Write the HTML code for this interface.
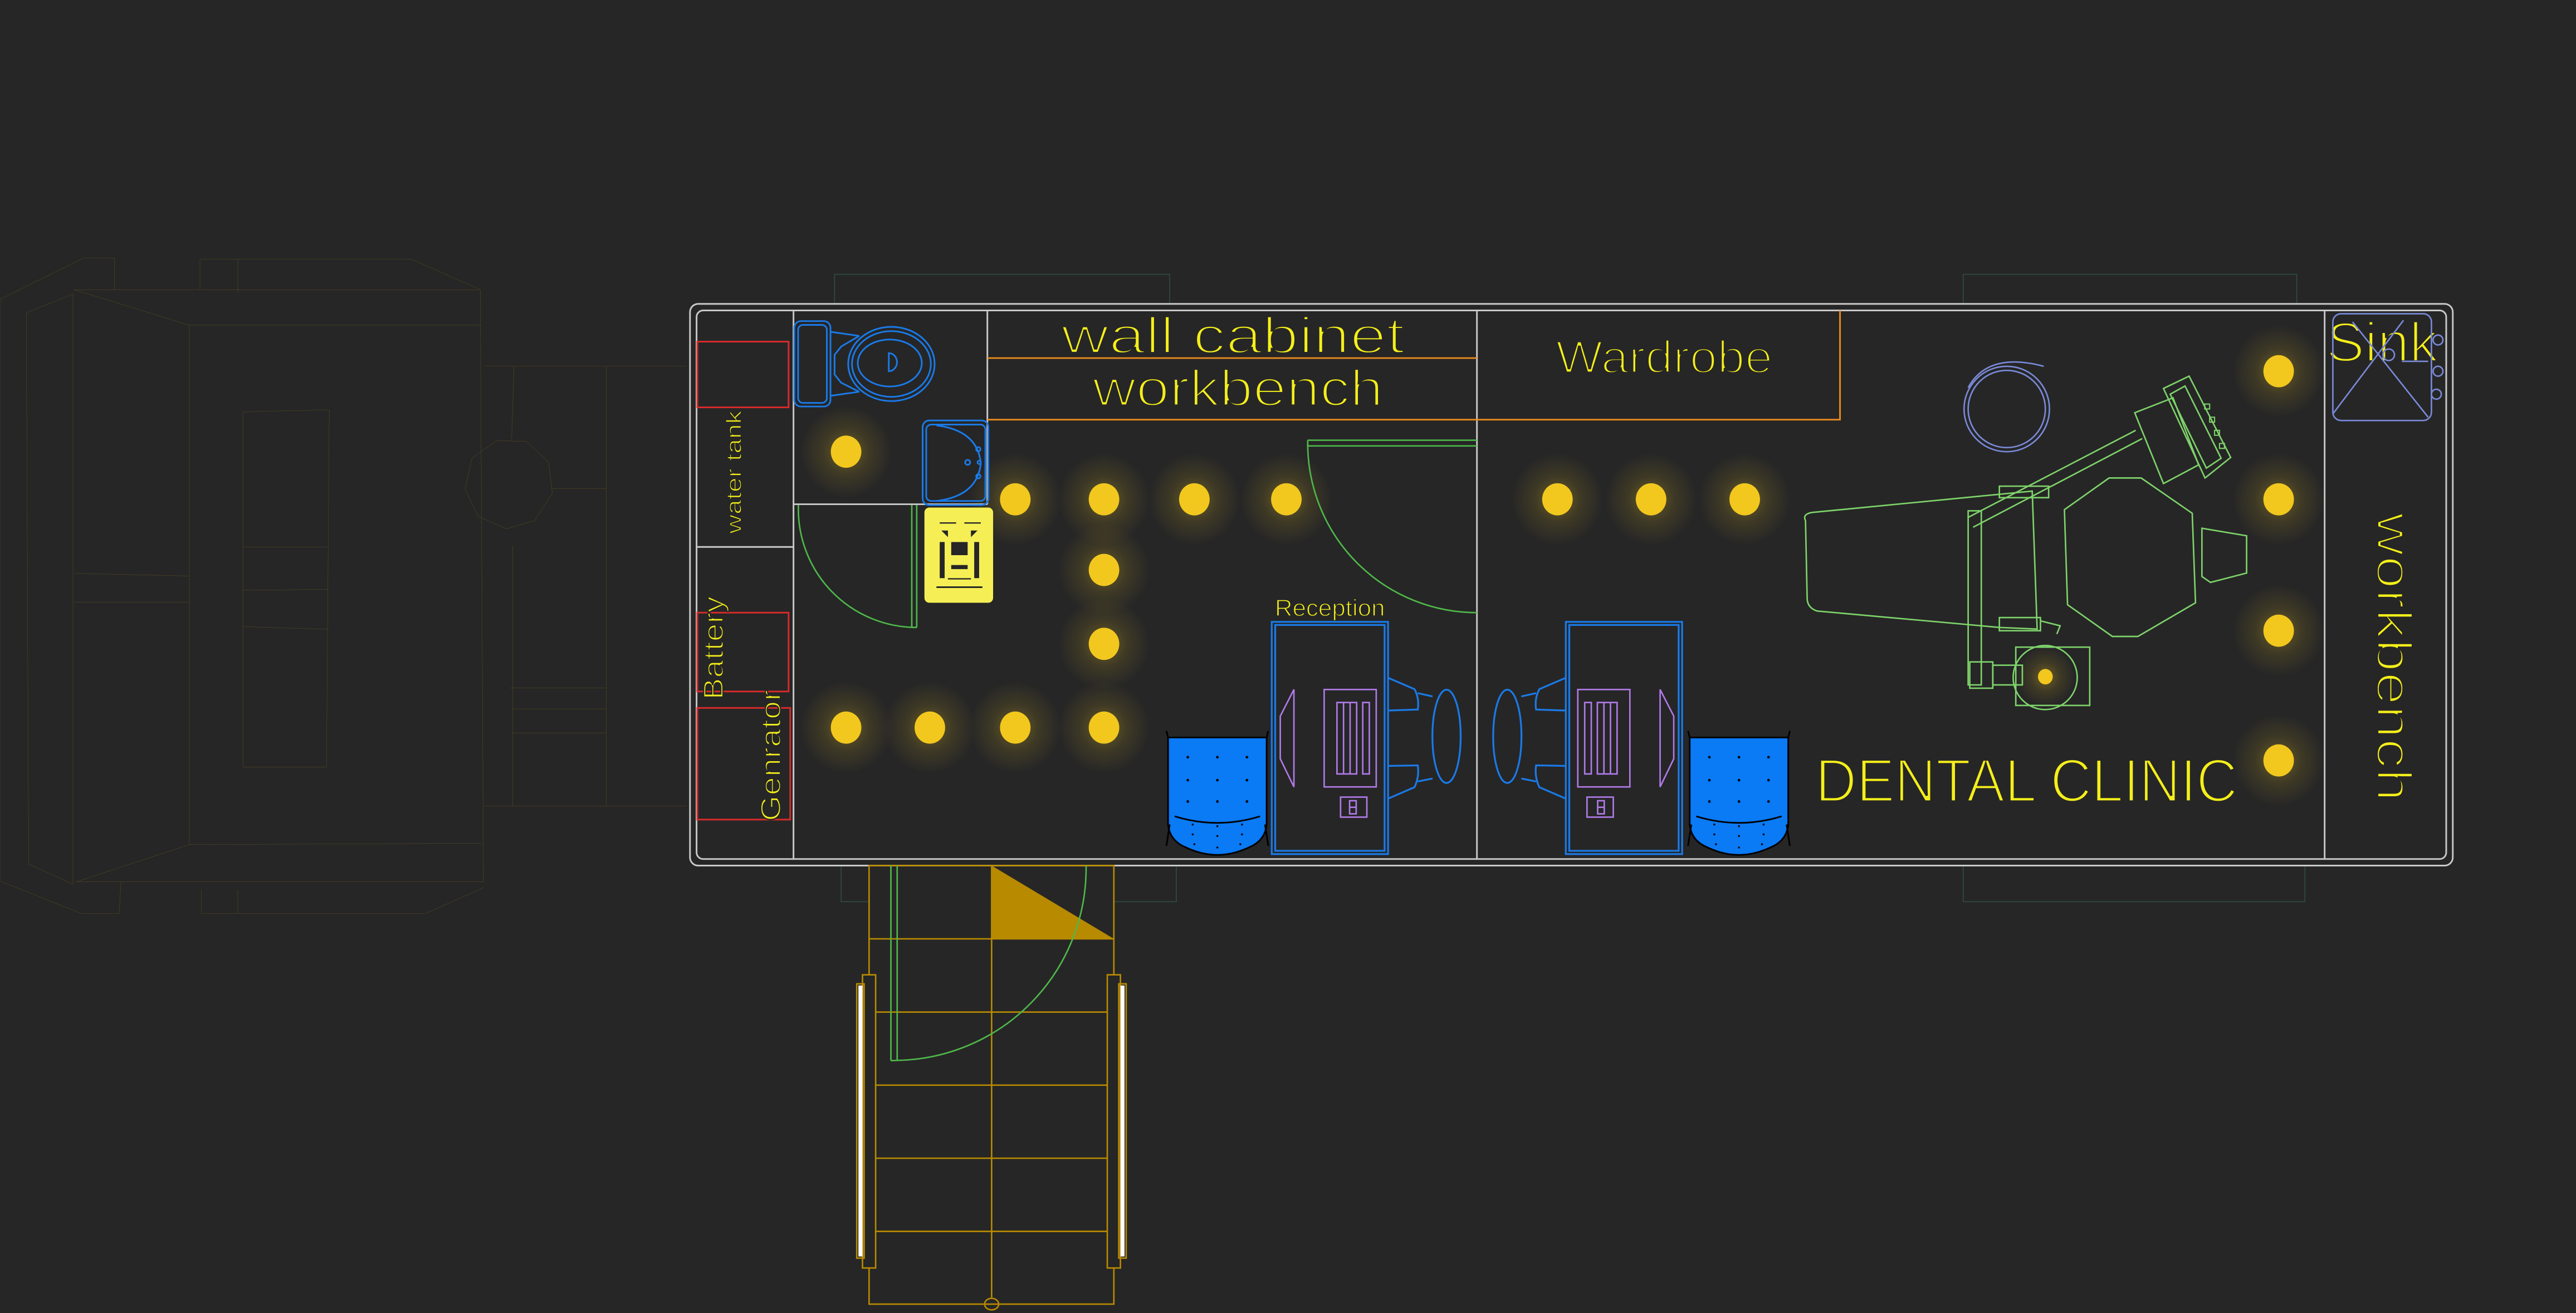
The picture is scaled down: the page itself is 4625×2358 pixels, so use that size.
<!DOCTYPE html>
<html><head><meta charset="utf-8"><style>
html,body{margin:0;padding:0;background:#262626;}
svg{display:block;}
text{font-family:"Liberation Sans",sans-serif;fill:#f4ef1a;stroke:#262626;stroke-width:1.4;paint-order:normal;}
text.s{stroke-width:0.5;}
text.m{stroke-width:0.7;}
</style></head><body>
<svg width="4625" height="2358" viewBox="0 0 1568 799.4" xmlns="http://www.w3.org/2000/svg">
<defs>
<radialGradient id="glow"><stop offset="0" stop-color="#f2c81e" stop-opacity="0.35"/><stop offset="0.5" stop-color="#f2c81e" stop-opacity="0.12"/><stop offset="1" stop-color="#f2c81e" stop-opacity="0"/></radialGradient>
</defs>
<rect width="1568" height="799.4" fill="#262626"/>

<!-- truck cab -->
<g transform="translate(0,145.8) scale(0.2811,0.2703)" fill="none" stroke="#6b5a1e" stroke-width="0.4">
<polyline vector-effect="non-scaling-stroke" points="0,135 180,42 248,42 248,113"/>
<polyline vector-effect="non-scaling-stroke" points="433,113 433,44 890,44 1040,113"/>
<line vector-effect="non-scaling-stroke" x1="515" y1="44" x2="515" y2="120"/>
<polyline vector-effect="non-scaling-stroke" points="160,113 1040,113 1047,1447"/>
<polyline vector-effect="non-scaling-stroke" points="0,135 0,1445 175,1518 258,1518 262,1447"/>
<polyline vector-effect="non-scaling-stroke" points="436,1465 436,1518 922,1518 1047,1460"/>
<line vector-effect="non-scaling-stroke" x1="515" y1="1465" x2="515" y2="1518"/>
<polygon vector-effect="non-scaling-stroke" points="57,165 158,123 158,1452 62,1407"/>
<polyline vector-effect="non-scaling-stroke" points="160,113 410,193 1043,193"/>
<polyline vector-effect="non-scaling-stroke" points="410,193 410,1363 1043,1360"/>
<polyline vector-effect="non-scaling-stroke" points="410,1363 165,1447 1047,1447"/>
<line vector-effect="non-scaling-stroke" x1="163" y1="752" x2="410" y2="758"/>
<line vector-effect="non-scaling-stroke" x1="160" y1="817" x2="410" y2="817"/>
<polygon vector-effect="non-scaling-stroke" points="526,388 713,384 707,1188 526,1188"/>
<line vector-effect="non-scaling-stroke" x1="526" y1="693" x2="710" y2="693"/>
<line vector-effect="non-scaling-stroke" x1="524" y1="790" x2="710" y2="788"/>
<line vector-effect="non-scaling-stroke" x1="526" y1="872" x2="710" y2="878"/>
<line vector-effect="non-scaling-stroke" x1="1050" y1="285" x2="1487" y2="285"/>
<line vector-effect="non-scaling-stroke" x1="1047" y1="1276" x2="1487" y2="1276"/>
<line vector-effect="non-scaling-stroke" x1="1313" y1="285" x2="1313" y2="1276"/>
<line vector-effect="non-scaling-stroke" x1="1113" y1="285" x2="1108" y2="450"/>
<line vector-effect="non-scaling-stroke" x1="1110" y1="690" x2="1110" y2="1276"/>
<line vector-effect="non-scaling-stroke" x1="1195" y1="561" x2="1313" y2="561"/>
<line vector-effect="non-scaling-stroke" x1="1105" y1="1010" x2="1313" y2="1010"/>
<line vector-effect="non-scaling-stroke" x1="1110" y1="1058" x2="1313" y2="1058"/>
<line vector-effect="non-scaling-stroke" x1="1110" y1="1112" x2="1313" y2="1112"/>
<polygon vector-effect="non-scaling-stroke" points="1075,453 1140,455 1188,502 1196,572 1158,633 1096,652 1035,623 1007,562 1022,493"/>
</g>

<!-- faint teal outlines -->
<g fill="none" stroke="#2f4a40" stroke-width="0.6">
<polyline points="508,185 508,167 712,167 712,185"/>
<polyline points="1195,185 1195,167 1398,167 1398,185"/>
<polyline points="512,527 512,549 529,549"/>
<polyline points="678,549 716,549 716,527"/>
<polyline points="1195,527 1195,549 1403,549 1403,527"/>
</g>

<!-- glows -->
<g fill="url(#glow)">
<circle cx="515" cy="275" r="28"/><circle cx="618" cy="304" r="28"/><circle cx="672" cy="304" r="28"/><circle cx="727" cy="304" r="28"/><circle cx="783" cy="304" r="28"/>
<circle cx="672" cy="347" r="28"/><circle cx="672" cy="392" r="28"/>
<circle cx="515" cy="443" r="28"/><circle cx="566" cy="443" r="28"/><circle cx="618" cy="443" r="28"/><circle cx="672" cy="443" r="28"/>
<circle cx="948" cy="304" r="28"/><circle cx="1005" cy="304" r="28"/><circle cx="1062" cy="304" r="28"/>
<circle cx="1387" cy="226" r="28"/><circle cx="1387" cy="304" r="28"/><circle cx="1387" cy="384" r="28"/><circle cx="1387" cy="463" r="28"/>
<circle cx="1245" cy="412" r="18"/>
</g>

<!-- frame -->
<g fill="none" stroke="#c8c8c8" stroke-width="1">
<rect x="420" y="185" width="1073" height="342" rx="5"/>
<rect x="424" y="189" width="1065" height="334" rx="4"/>
<line x1="483" y1="189" x2="483" y2="523"/>
<line x1="424" y1="333" x2="483" y2="333"/>
<line x1="601" y1="189" x2="601" y2="307"/>
<line x1="483" y1="307" x2="601" y2="307"/>
<line x1="899" y1="189" x2="899" y2="523"/>
<line x1="1415" y1="189" x2="1415" y2="523"/>
</g>

<!-- red boxes -->
<g fill="none" stroke="#d92a2a" stroke-width="1">
<rect x="424.5" y="208" width="55.5" height="40"/>
<rect x="424.5" y="373" width="55.5" height="48"/>
<rect x="424.5" y="431" width="56.5" height="68"/>
</g>

<!-- orange cabinets -->
<g fill="none" stroke="#e88a1e" stroke-width="1">
<line x1="601" y1="218" x2="899" y2="218"/>
<polyline points="601,255.5 1120,255.5 1120,189"/>
</g>

<!-- texts -->
<text x="646" y="215" font-size="31" textLength="209" lengthAdjust="spacingAndGlyphs">wall  cabinet</text>
<text x="665" y="247" font-size="31" textLength="177" lengthAdjust="spacingAndGlyphs">workbench</text>
<text x="947" y="227" font-size="28" textLength="132" lengthAdjust="spacingAndGlyphs">Wardrobe</text>
<text class="s" x="776" y="375" font-size="14" textLength="67" lengthAdjust="spacingAndGlyphs">Reception</text>
<text x="1105" y="488" font-size="37" textLength="257" lengthAdjust="spacingAndGlyphs">DENTAL  CLINIC</text>
<text x="1416" y="220" font-size="34" textLength="68" lengthAdjust="spacingAndGlyphs">Sink</text>
<text transform="translate(1447,312) rotate(90)" font-size="30" textLength="176" lengthAdjust="spacingAndGlyphs">workbench</text>
<text class="s" transform="translate(451,325) rotate(-90)" font-size="13" textLength="75" lengthAdjust="spacingAndGlyphs">water  tank</text>
<text class="m" transform="translate(440,426) rotate(-90)" font-size="17" textLength="63" lengthAdjust="spacingAndGlyphs">Battery</text>
<text class="m" transform="translate(475,500) rotate(-90)" font-size="17" textLength="80" lengthAdjust="spacingAndGlyphs">Genrator</text>

<!-- toilet -->
<g fill="none" stroke="#1a7ae8" stroke-width="1">
<rect x="483.5" y="195.5" width="22" height="52" rx="4"/>
<rect x="485.8" y="197.8" width="17.5" height="47.5" rx="3"/>
<polyline points="505.5,202 523,204.5"/><polyline points="505.5,241 523,238.5"/>
<path d="M523,204.5 L512,211 L508,216 L508,228 L512,233 L523,238.5"/>
<ellipse cx="542.6" cy="221.6" rx="26.3" ry="22.6"/>
<ellipse cx="542.6" cy="221.6" rx="24" ry="20"/>
<ellipse cx="541.6" cy="221" rx="19.5" ry="14.3"/>
<path d="M541,215 L541,226 A5,5.5 0 0 0 541,215 Z"/>
<!-- sink -->
<rect x="561.6" y="256" width="40" height="51.5" rx="4"/>
<rect x="563.8" y="258.5" width="36" height="46.5" rx="3"/>
<path d="M570,259 Q595,262 597,282 Q595,302 570,305"/>
<circle cx="595.5" cy="273.5" r="1.3"/><circle cx="596" cy="281.5" r="1"/><circle cx="595.5" cy="290" r="1.3"/><circle cx="589" cy="281.5" r="1.5"/>
</g>

<!-- yellow box -->
<rect x="562.7" y="309" width="41.8" height="58" rx="3" fill="#f5ef55"/>
<g fill="#262626">
<rect x="572" y="318" width="10" height="0.8"/><rect x="587" y="318" width="10" height="0.8"/>
<polygon points="573,323 577,323 577,327"/><polygon points="591,323 595,323 591,327"/>
<rect x="579" y="330" width="10" height="8"/>
<rect x="572" y="330" width="3" height="22"/><rect x="593" y="330" width="3" height="22"/>
<rect x="579" y="344" width="10" height="2.5"/>
<rect x="577" y="352" width="14" height="0.8"/>
<rect x="570" y="357" width="28" height="1"/>
</g>

<!-- doors -->
<g fill="none" stroke="#4fb84a" stroke-width="0.9">
<path d="M486,307.5 A72,72 0 0 0 558,382"/>
<line x1="555" y1="307.5" x2="555" y2="382"/><line x1="558" y1="307.5" x2="558" y2="382"/><line x1="555" y1="382" x2="558" y2="382"/>
<path d="M796,270 A103,103 0 0 0 899,373"/>
<line x1="796" y1="268" x2="899" y2="268"/><line x1="796" y1="271.5" x2="899" y2="271.5"/><line x1="796" y1="268" x2="796" y2="271.5"/>
</g>

<!-- reception desk -->
<g fill="none" stroke="#1a7ae8" stroke-width="1.1">
<rect x="774.1" y="378.6" width="70.8" height="141.4"/>
<rect x="776.2" y="380.5" width="66.6" height="137.5"/>
<path d="M845,412.7 L861,419.6 Q864,425 863,432 L845,432.6"/>
<path d="M845,486.2 L861,479.3 Q864,473 863,466 L845,466.3"/>
<path d="M863,422 L872,424"/><path d="M863,475.8 L872,474"/>
<ellipse cx="880.5" cy="448.3" rx="8.6" ry="28.4"/>
<rect x="953.1" y="378.6" width="70.8" height="141.4"/>
<rect x="955.2" y="380.5" width="66.6" height="137.5"/>
<path d="M953,412.7 L937,419.6 Q934,425 935,432 L953,432.6"/>
<path d="M953,486.2 L937,479.3 Q934,473 935,466 L953,466.3"/>
<path d="M935,422 L926,424"/><path d="M935,475.8 L926,474"/>
<ellipse cx="917.5" cy="448.3" rx="8.6" ry="28.4"/>
</g>
<g fill="none" stroke="#b07ae8" stroke-width="0.9">
<polygon points="787.6,419.8 787.6,479.1 779.3,462 779.3,436"/>
<rect x="806" y="419.8" width="31.7" height="59.3"/>
<rect x="813.8" y="427.7" width="12" height="43.5"/><line x1="817.8" y1="427.7" x2="817.8" y2="471.2"/><line x1="821.8" y1="427.7" x2="821.8" y2="471.2"/>
<rect x="829.5" y="427.7" width="4" height="43.5"/>
<rect x="816" y="485.3" width="16" height="12.2"/><rect x="821.5" y="487.5" width="4" height="8"/><line x1="821.5" y1="491.5" x2="825.5" y2="491.5"/>
<polygon points="1010.5,419.8 1010.5,479.1 1018.8,462 1018.8,436"/>
<rect x="960.4" y="419.8" width="31.7" height="59.3"/>
<rect x="972.3" y="427.7" width="12" height="43.5"/><line x1="976.3" y1="427.7" x2="976.3" y2="471.2"/><line x1="980.3" y1="427.7" x2="980.3" y2="471.2"/>
<rect x="964.6" y="427.7" width="4" height="43.5"/>
<rect x="966" y="485.3" width="16" height="12.2"/><rect x="972.5" y="487.5" width="4" height="8"/><line x1="972.5" y1="491.5" x2="976.5" y2="491.5"/>
</g>

<!-- blue chairs -->
<g id="bc" stroke="#000" stroke-width="1">
<path d="M711,449 L771,449 L771,502 Q770,512 760,516 Q741,525 722,516 Q712,512 711,502 Z" fill="#0a7af5"/>
<path d="M711,449 L710,445 M771,449 L772,445" />
<path d="M712,502 L710,515 M770,502 L772,515"/>
<path d="M715,497 Q741,505 767,497" fill="none"/>
<g fill="#000" stroke="none">
<circle cx="723" cy="461" r="0.8"/><circle cx="741" cy="461" r="0.8"/><circle cx="759" cy="461" r="0.8"/>
<circle cx="723" cy="475" r="0.8"/><circle cx="741" cy="475" r="0.8"/><circle cx="759" cy="475" r="0.8"/>
<circle cx="723" cy="488" r="0.8"/><circle cx="741" cy="488" r="0.8"/><circle cx="759" cy="488" r="0.8"/>
<circle cx="726" cy="502" r="0.6"/><circle cx="741" cy="503" r="0.6"/><circle cx="756" cy="502" r="0.6"/>
<circle cx="726" cy="508" r="0.6"/><circle cx="741" cy="509" r="0.6"/><circle cx="756" cy="508" r="0.6"/>
<circle cx="727" cy="514" r="0.6"/><circle cx="741" cy="516" r="0.6"/><circle cx="755" cy="514" r="0.6"/>
</g>
</g>
<use href="#bc" transform="translate(317.5,0)"/>

<!-- dental chair -->
<g fill="none" stroke="#7ed36a" stroke-width="0.9">
<path d="M1099,317 Q1097,313 1103,312 L1237,299 L1240,383 L1217,382 L1106,372 Q1100,370 1100,364 Z"/>
<polygon points="1283.8,291 1303.3,291 1334.4,312.5 1336.4,367 1301.3,387.5 1285.8,387.5 1258.5,368.2 1256.6,310.3"/>
<path d="M1340.3,321.6 L1367.5,326.2 L1367.5,348.9 L1345.5,354.6 L1340.3,351 Z"/>
<polygon points="1299.4,251.3 1322.7,242.2 1338.3,283 1316.9,294.4"/>
<polygon points="1316.9,236.5 1332.5,229 1357.8,278.5 1342.2,291"/>
<polygon points="1321,240 1330,235 1352,279 1343,285"/>
<g stroke-width="0.7"><rect x="1342" y="246" width="3" height="3"/><rect x="1345" y="254" width="3" height="3"/><rect x="1348" y="262" width="3" height="3"/><rect x="1351" y="270" width="3" height="3"/></g>
<line x1="1198" y1="315" x2="1300" y2="262"/><line x1="1201" y1="321" x2="1304" y2="267"/>
<rect x="1198" y="311" width="8" height="106"/>
<rect x="1217" y="296" width="30" height="7"/>
<rect x="1217" y="376" width="25" height="8"/><path d="M1242,378 L1254,381 L1252,386"/>
<circle cx="1244.9" cy="412.5" r="19.5"/>
<rect x="1227" y="394" width="45" height="35.5"/>
<rect x="1199" y="403" width="14" height="16"/>
<rect x="1213" y="405" width="18" height="12"/>
<circle cx="1221.5" cy="249" r="26" stroke="#7a8ad8"/>
<circle cx="1221.5" cy="249" r="23.5" stroke="#7a8ad8"/>
<path d="M1198,236 Q1210,214 1244,223" stroke="#7a8ad8"/>
</g>
<ellipse cx="1245" cy="412" rx="4.5" ry="4.7" fill="#f2c81e"/>

<!-- sink icon -->
<g fill="none" stroke="#7a8ad8" stroke-width="0.9">
<rect x="1420" y="191" width="60" height="65" rx="5"/>
<line x1="1420" y1="252" x2="1463" y2="195"/><line x1="1432" y1="196" x2="1478" y2="254"/>
<circle cx="1454" cy="216" r="3.5"/>
<line x1="1462" y1="220" x2="1478" y2="220"/>
<circle cx="1484" cy="207" r="3"/><circle cx="1484" cy="226" r="3"/><circle cx="1483" cy="240" r="3"/>
</g>

<!-- lights -->
<g fill="#f2c81e">
<ellipse cx="515" cy="275" rx="9.3" ry="9.8"/><ellipse cx="618" cy="304" rx="9.3" ry="9.8"/><ellipse cx="672" cy="304" rx="9.3" ry="9.8"/><ellipse cx="727" cy="304" rx="9.3" ry="9.8"/><ellipse cx="783" cy="304" rx="9.3" ry="9.8"/>
<ellipse cx="672" cy="347" rx="9.3" ry="9.8"/><ellipse cx="672" cy="392" rx="9.3" ry="9.8"/>
<ellipse cx="515" cy="443" rx="9.3" ry="9.8"/><ellipse cx="566" cy="443" rx="9.3" ry="9.8"/><ellipse cx="618" cy="443" rx="9.3" ry="9.8"/><ellipse cx="672" cy="443" rx="9.3" ry="9.8"/>
<ellipse cx="948" cy="304" rx="9.3" ry="9.8"/><ellipse cx="1005" cy="304" rx="9.3" ry="9.8"/><ellipse cx="1062" cy="304" rx="9.3" ry="9.8"/>
<ellipse cx="1387" cy="226" rx="9.3" ry="9.8"/><ellipse cx="1387" cy="304" rx="9.3" ry="9.8"/><ellipse cx="1387" cy="384" rx="9.3" ry="9.8"/><ellipse cx="1387" cy="463" rx="9.3" ry="9.8"/>
</g>

<!-- stairs -->
<polygon points="603.6,527 678,571.6 603.6,571.6" fill="#b88a00"/>
<g fill="none" stroke="#b88a00" stroke-width="0.9">
<polyline points="529,593.5 529,527 678,527 678,593.5"/>
<polyline points="529,772 529,794 678,794 678,772"/>
<line x1="529" y1="571.6" x2="678" y2="571.6"/>
<line x1="533" y1="616.2" x2="674" y2="616.2"/>
<line x1="533" y1="660.7" x2="674" y2="660.7"/>
<line x1="533" y1="705.2" x2="674" y2="705.2"/>
<line x1="533" y1="749.7" x2="674" y2="749.7"/>
<line x1="603.6" y1="527" x2="603.6" y2="790"/>
<ellipse cx="603.6" cy="794" rx="4.3" ry="3.5"/>
<rect x="525" y="593.5" width="8" height="178.5"/>
<rect x="674" y="593.5" width="8" height="178.5"/>
<rect x="521.5" y="599" width="4.5" height="167"/>
<rect x="681" y="599" width="4.5" height="167"/>
</g>
<rect x="522.5" y="600" width="2.5" height="165" fill="#fff"/>
<rect x="682" y="600" width="2.5" height="165" fill="#fff"/>
<g fill="none" stroke="#4fb84a" stroke-width="0.9">
<line x1="542.3" y1="527" x2="542.3" y2="645.8"/><line x1="546.1" y1="527" x2="546.1" y2="645.8"/>
<path d="M542.3,645.8 L546.1,645.6 A117,117 0 0 0 661.1,527"/>
</g>
</svg>
</body></html>
